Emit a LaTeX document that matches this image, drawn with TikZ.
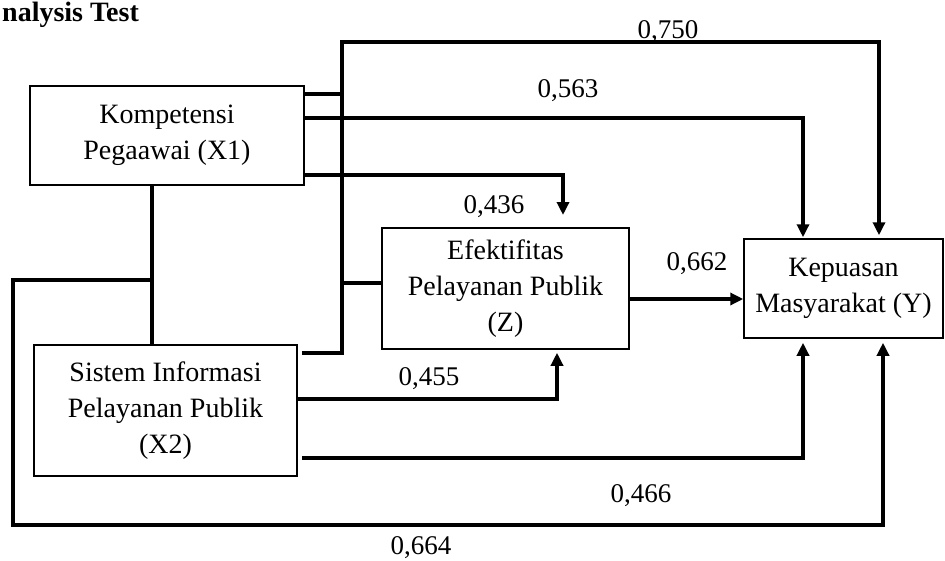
\documentclass[tikz,border=0pt]{standalone}
\usepackage{fontspec}
\setmainfont{Liberation Serif}
\usetikzlibrary{arrows.meta}
\begin{document}
\begin{tikzpicture}[x=1pt,y=-1pt,
  box/.style={draw, line width=1.5pt, inner sep=0pt, align=center, font=\fontsize{28}{36}\selectfont},
  conn/.style={line width=3.5pt},
  arr/.style={conn, -{Triangle[length=13pt,width=12pt]}},
  lbl/.style={anchor=base, inner sep=0pt, font=\fontsize{27}{32}\selectfont}]
\useasboundingbox (0,0) rectangle (945,560);
% title
\node[anchor=base west, inner sep=0pt, font=\bfseries\fontsize{28}{32}\selectfont] (title) at (2,21) {nalysis Test};
% boxes
\node[box, minimum width=274pt, minimum height=99pt] (x1) at (167,135.5) {Kompetensi\\Pegaawai (X1)};
\node[box, minimum width=247pt, minimum height=121pt] (z) at (505.5,288.5) {Efektifitas\\Pelayanan Publik\\(Z)};
\node[box, minimum width=199pt, minimum height=99pt] (y) at (843.5,288.5) {Kepuasan\\Masyarakat (Y)};
\node[box, minimum width=263pt, minimum height=131pt] (x2) at (165.5,410.5) {Sistem Informasi\\Pelayanan Publik\\(X2)};
% junction coordinates
\coordinate (jt) at (342,42);
\coordinate (jb) at (342,353);
\coordinate (lt) at (13,280);
\coordinate (lb) at (13,525);
\coordinate (t436) at (563,215);
% connectors
\draw[conn] (x1.east |- 0,94) -- (jt |- 0,94);
\draw[arr, shorten >=3pt] ([xshift=4pt]x2.east |- jb) -- (jb) -- (jt) -| (y.north -| 879,0);
\draw[conn] (z.west |- 0,283) -- (jt |- 0,283);
\draw[arr, shorten >=1pt] (x1.east |- 0,118) -| (y.north -| 803,0);
\draw[arr] (x1.east |- 0,175) -| (t436);
\draw[arr, shorten >=3pt] (x2.east |- 0,399) -| (z.south -| 557,0);
\draw[arr, shorten >=4pt] ([xshift=4pt]x2.east |- 0,458) -| (y.south -| 803,0);
\draw[arr] (z.east |- 0,299) -- (y.west |- 0,299);
\draw[conn] (x1.south -| 152,0) -- (x2.north -| 152,0);
\draw[arr, shorten >=4pt] (lt -| 152,0) -- (lt) -- (lb) -| (y.south -| 883,0);
% labels
\node[lbl] (l750) at (668,38) {0,750};
\node[lbl] (l563) at (568,97) {0,563};
\node[lbl] (l436) at (494,213) {0,436};
\node[lbl] (l662) at (697,270) {0,662};
\node[lbl] (l455) at (429,385) {0,455};
\node[lbl] (l466) at (641,502) {0,466};
\node[lbl] (l664) at (421,554) {0,664};
\end{tikzpicture}
\end{document}
